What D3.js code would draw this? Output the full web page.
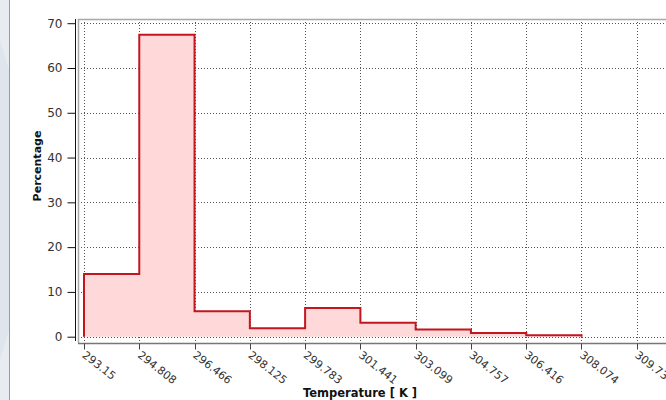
<!DOCTYPE html>
<html>
<head>
<meta charset="utf-8">
<script src="https://cdn.jsdelivr.net/npm/d3@7"></script>
<style>
  body { margin: 0; background: #fff; }
  svg { display: block; font-family: "DejaVu Sans", Verdana, sans-serif; }
</style>
</head>
<body>
<div id="chart"></div>
<script>
// bin edges (K) and percentage per bin
const binEdges = [293.15, 294.808, 296.466, 298.125, 299.783, 301.441, 303.099, 304.757, 306.416, 308.074, 309.73];
const tickLabels = ["293.15", "294.808", "296.466", "298.125", "299.783", "301.441", "303.099", "304.757", "306.416", "308.074", "309.73"];
const percentages = [14.0, 67.4, 5.7, 1.9, 6.4, 3.1, 1.6, 0.8, 0.3, 0];
const yTicks = [0, 10, 20, 30, 40, 50, 60, 70];

const W = 666, H = 400;
const PLOT = {LEFT: 78, TOP: 19, RIGHT: 666, BOTTOM: 343};

const svg = d3.select("#chart").append("svg")
    .attr("width", W)
    .attr("height", H);

// pale page decoration on the left edge
svg.append("path")
    .attr("d", "M0,0 L9,0 L9,400 L0,400 Z")
    .attr("fill", "#e8ecf1");
svg.append("path")
    .attr("d", "M0,40 L9,70 L9,330 L0,360 Z")
    .attr("fill", "#dfe5ec");
svg.append("line")
    .attr("x1", 9.5).attr("x2", 9.5)
    .attr("y1", 0).attr("y2", H)
    .attr("stroke", "#9a9a9a");

const x = d3.scaleLinear()
    .domain([binEdges[0], binEdges[binEdges.length - 1]])
    .range([84, 636.7]);
const y = d3.scaleLinear()
    .domain([0, 70])
    .range([336.7, 23.2]);

// grid
const grid = svg.append("g");
grid.selectAll(".hgrid")
    .data(yTicks)
    .enter().append("line")
    .attr("x1", PLOT.LEFT).attr("x2", PLOT.RIGHT)
    .attr("y1", d => Math.round(y(d)) + 0.5)
    .attr("y2", d => Math.round(y(d)) + 0.5)
    .attr("stroke", "#555")
    .attr("stroke-dasharray", "1,2");
grid.selectAll(".vgrid")
    .data(binEdges)
    .enter().append("line")
    .attr("y1", PLOT.TOP).attr("y2", PLOT.BOTTOM)
    .attr("x1", d => Math.round(x(d)) + 0.5)
    .attr("x2", d => Math.round(x(d)) + 0.5)
    .attr("stroke", "#555")
    .attr("stroke-dasharray", "1,2");

// histogram outline points: rise from zero, step through bins, drop back at the last non-empty edge
const last = percentages.length - 1;
const pts = [[binEdges[0], 0]];
percentages.slice(0, last).forEach((v, i) => pts.push([binEdges[i], v]));
pts.push([binEdges[last], 0]);

const area = d3.area()
    .curve(d3.curveStepAfter)
    .x(d => x(d[0]))
    .y0(y(0))
    .y1(d => y(d[1]));
const line = d3.line()
    .curve(d3.curveStepAfter)
    .x(d => x(d[0]))
    .y(d => y(d[1]));

svg.append("path")
    .attr("d", area(pts))
    .attr("fill", "#ffd8da");
svg.append("path")
    .attr("d", line(pts))
    .attr("fill", "none")
    .attr("stroke", "#c3161f")
    .attr("stroke-width", 2);

// frame
svg.append("path")
    .attr("d", `M${PLOT.RIGHT},${PLOT.TOP + 0.5} H${PLOT.LEFT + 0.5} V${PLOT.BOTTOM}`)
    .attr("fill", "none")
    .attr("stroke", "#a8a8a8")
    .attr("stroke-width", 1.5);

// y axis
const yAxis = svg.append("g")
    .attr("transform", "translate(75.5,0)");
yAxis.call(d3.axisLeft(y).tickValues(d3.range(0, 71, 2)).tickSize(5).tickFormat(""))
    .call(g => g.select(".domain").remove());
yAxis.append("line")
    .attr("y1", PLOT.TOP).attr("y2", 341)
    .attr("stroke", "#111");
yAxis.call(d3.axisLeft(y).tickValues(yTicks).tickSize(8).tickPadding(5))
    .call(g => g.selectAll(".domain").remove());
yAxis.selectAll("line").attr("stroke", "#111");
yAxis.selectAll("text")
    .attr("fill", "#333")
    .attr("font-size", 12)
    .attr("font-family", "'DejaVu Sans', Verdana, sans-serif");

// x axis
const xAxis = svg.append("g")
    .attr("transform", `translate(0,${PLOT.BOTTOM + 0.5})`);
xAxis.append("line")
    .attr("x1", PLOT.LEFT).attr("x2", PLOT.RIGHT)
    .attr("stroke", "#777")
    .attr("stroke-width", 1.5);
xAxis.selectAll(".xtick")
    .data(binEdges)
    .enter().append("line")
    .attr("x1", d => Math.round(x(d)) + 0.5)
    .attr("x2", d => Math.round(x(d)) + 0.5)
    .attr("y1", 0).attr("y2", 6)
    .attr("stroke", "#444");
xAxis.selectAll(".xlab")
    .data(binEdges)
    .enter().append("text")
    .attr("transform", d => `translate(${x(d)},${10}) rotate(38)`)
    .attr("font-size", 11)
    .attr("fill", "#333")
    .attr("dy", "0.35em")
    .text((d, i) => tickLabels[i]);

// axis titles
svg.append("text")
    .attr("transform", "translate(41,166) rotate(-90)")
    .attr("text-anchor", "middle")
    .attr("font-size", 11)
    .attr("font-weight", "bold")
    .attr("fill", "#111")
    .text("Percentage");
svg.append("text")
    .attr("x", 360)
    .attr("y", 397)
    .attr("text-anchor", "middle")
    .attr("font-size", 11.5)
    .attr("font-weight", "bold")
    .attr("fill", "#111")
    .text("Temperature [ K ]");
</script>
</body>
</html>
